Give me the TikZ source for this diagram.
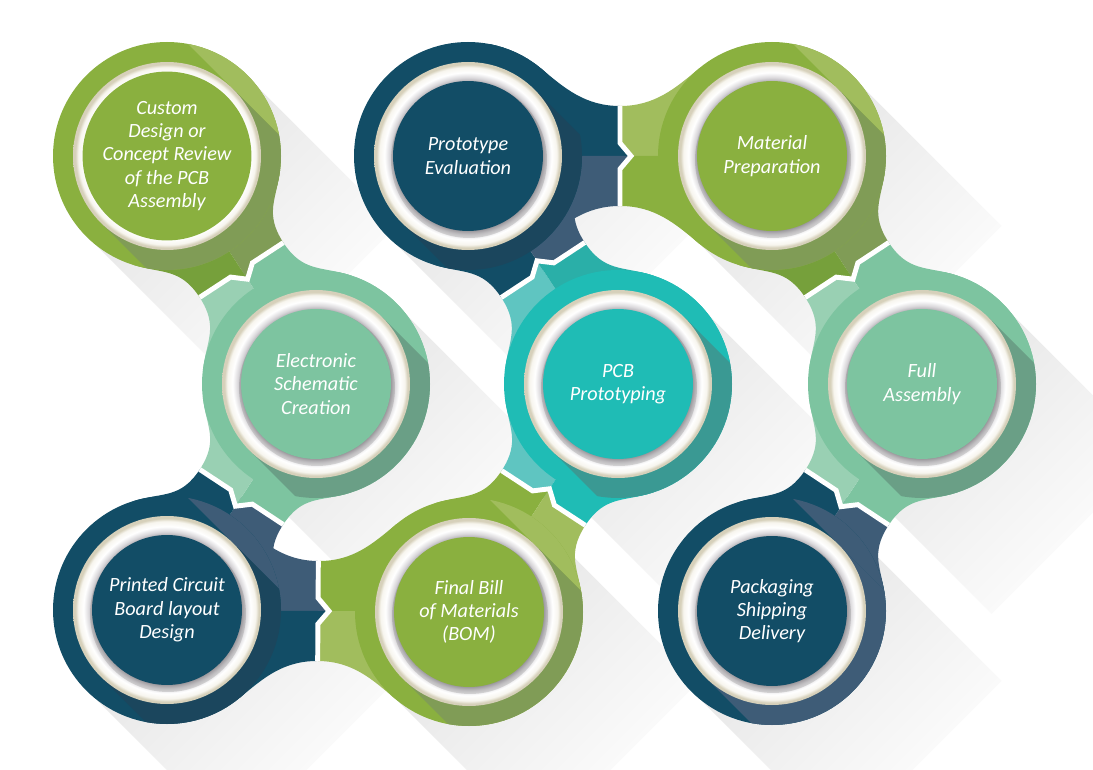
\documentclass[tikz,border=0pt]{standalone}
\usepackage{fontspec}
\setmainfont{Carlito}
\usetikzlibrary{calc, fadings}

\definecolor{GreenBase}{HTML}{8AB03F}
\definecolor{GreenLight}{HTML}{A1BD5D}
\definecolor{GreenDark}{HTML}{76A03B}
\definecolor{GreenOlive}{HTML}{809C56}
\definecolor{MintBase}{HTML}{7DC4A0}
\definecolor{MintLight}{HTML}{99D0B3}
\definecolor{MintShadow}{HTML}{6A9F86}
\definecolor{BlueBase}{HTML}{124D66}
\definecolor{BlueSlate}{HTML}{3E5C77}
\definecolor{BlueShadow}{HTML}{1B465D}
\definecolor{TealBase}{HTML}{1FBCB5}
\definecolor{TealLight}{HTML}{5FC5C1}
\definecolor{TealDark}{HTML}{2AAFA8}
\definecolor{TealShadow}{HTML}{3A9993}
\definecolor{RingCream}{HTML}{D6D0BA}
\definecolor{RingWhite}{HTML}{F7F5EE}
\definecolor{RingMid}{HTML}{D9D7DA}
\definecolor{RingGray}{HTML}{A6A2A8}

\pgfdeclareradialshading{ringshade}{\pgfpointorigin}{%
  color(0bp)=(RingGray); color(19.6bp)=(RingGray); color(20.8bp)=(RingMid);
  color(22.2bp)=(white); color(23.6bp)=(RingWhite); color(24.4bp)=(RingCream);
  color(25bp)=(RingCream); color(50bp)=(RingCream)}

\newcommand{\neckphi}{50}

% neck between two stages, split in four tones, arrow notch towards #2
\newcommand{\necklink}[6]{%
  \coordinate (#1-#2-m) at ($(#1)!0.5!(#2)$);
  \coordinate (#1-#2-qp) at ($(#1-#2-m)!1cm!90:(#2)$);
  \coordinate (#1-#2-qm) at ($(#1-#2-m)!1cm!-90:(#2)$);
  \coordinate (#1-#2-ap) at ($(#1)!2.28cm!\neckphi:(#2)$);
  \coordinate (#1-#2-am) at ($(#1)!2.28cm!-\neckphi:(#2)$);
  \coordinate (#1-#2-bp) at ($(#2)!2.28cm!-\neckphi:(#1)$);
  \coordinate (#1-#2-bm) at ($(#2)!2.28cm!\neckphi:(#1)$);
  \coordinate (#1-#2-aback) at ($(#1-#2-m)!0.7cm!(#1)$);
  \coordinate (#1-#2-bback) at ($(#1-#2-m)!0.7cm!(#2)$);
  \coordinate (#1-#2-tip) at ($(#1-#2-m)!0.22cm!(#2)$);
  \coordinate (#1-#2-vp) at ($(#1-#2-m)!0.26cm!90:(#2)$);
  \coordinate (#1-#2-vm) at ($(#1-#2-m)!0.26cm!-90:(#2)$);
  \fill[#5] (#2) -- (#1-#2-bp)
    .. controls ($(#1-#2-bp)!0.6cm!-90:(#2)$) and ($(#1-#2-bback)!1cm!90:(#2)$) .. (#1-#2-qp)
    -- (#1-#2-m) -- cycle;
  \fill[#6] (#2) -- (#1-#2-bm)
    .. controls ($(#1-#2-bm)!0.6cm!90:(#2)$) and ($(#1-#2-bback)!1cm!-90:(#2)$) .. (#1-#2-qm)
    -- (#1-#2-m) -- cycle;
  \fill[#3] (#1) -- (#1-#2-ap)
    .. controls ($(#1-#2-ap)!0.6cm!90:(#1)$) and ($(#1-#2-aback)!1cm!-90:(#1)$) .. (#1-#2-qp)
    -- (#1-#2-vp) -- (#1-#2-tip) -- cycle;
  \fill[#4] (#1) -- (#1-#2-am)
    .. controls ($(#1-#2-am)!0.6cm!-90:(#1)$) and ($(#1-#2-aback)!1cm!90:(#1)$) .. (#1-#2-qm)
    -- (#1-#2-vm) -- (#1-#2-tip) -- cycle;
}

\newcommand{\neckjoin}[2]{%
  \draw[joinline] (#1-#2-qp) -- (#1-#2-vp) -- (#1-#2-tip) -- (#1-#2-vm) -- (#1-#2-qm);
}

% disc of a stage: base colour, long shadow band, light side
\newcommand{\blobdisk}[4]{%
  \fill[#2] (#1) circle[radius=114];
  \begin{scope}
    \clip (#1) circle[radius=114];
    \fill[#4, shift={(#1)}] (-75,-208) -- (208,75) -- (349,-66) -- (66,-349) -- cycle;
    \fill[#3, shift={(#1)}] (66.5,-66.5) -- (-66.5,66.5) -- (75,208) -- (208,75) -- cycle;
  \end{scope}
}

\newcommand{\stagering}[1]{%
  \shade[shading=ringshade] (#1) circle[radius=94];
  \fill[black, opacity=0.12] ($(#1)+(1,4)$) circle[radius=78];
}

\begin{document}
\begin{tikzpicture}[x=0.02cm, y=-0.02cm,
  stagedisk/.style={circle, minimum size=3cm, inner sep=0pt, text=white, align=center,
    font=\fontsize{11.5}{13.3}\selectfont\itshape},
  joinline/.style={white, line width=2.8pt, line join=miter},
  bgshade/.style={fill=black!11, path fading=east, fading angle=-45}]

  \useasboundingbox[fill=white] (0,0) rectangle (1093,770);

  % stage centres
  \coordinate (design) at (167,156);
  \coordinate (schematic) at (316,384);
  \coordinate (layout) at (167,610);
  \coordinate (evaluation) at (468,156);
  \coordinate (prototyping) at (618,384);
  \coordinate (bom) at (469,612);
  \coordinate (material) at (772,156);
  \coordinate (assembly) at (922,384);
  \coordinate (shipping) at (772,611);

  % soft long shadows on the paper
  \foreach \c in {design,schematic,layout,evaluation,prototyping,bom,material,assembly,shipping}
    \fill[bgshade, shift={(\c)}] (80,-80) -- (-80,80) -- (70,230) -- (230,70) -- cycle;

  % necks
  \necklink{design}{schematic}{GreenOlive}{GreenDark}{MintBase}{MintLight}
  \necklink{schematic}{layout}{MintBase}{MintLight}{BlueSlate}{BlueBase}
  \necklink{layout}{bom}{BlueSlate}{BlueBase}{GreenBase}{GreenLight}
  \necklink{bom}{prototyping}{GreenBase}{GreenLight}{TealLight}{TealBase}
  \necklink{prototyping}{evaluation}{TealLight}{TealDark}{BlueBase}{BlueSlate}
  \necklink{evaluation}{material}{BlueBase}{BlueSlate}{GreenLight}{GreenBase}
  \necklink{material}{assembly}{GreenOlive}{GreenDark}{MintBase}{MintLight}
  \necklink{assembly}{shipping}{MintBase}{MintLight}{BlueSlate}{BlueBase}

  % discs
  \blobdisk{design}{GreenBase}{GreenOlive}{GreenLight}
  \blobdisk{schematic}{MintBase}{MintShadow}{MintBase}
  \blobdisk{layout}{BlueBase}{BlueShadow}{BlueSlate}
  \blobdisk{evaluation}{BlueBase}{BlueShadow}{BlueBase}
  \blobdisk{prototyping}{TealBase}{TealShadow}{TealBase}
  \blobdisk{bom}{GreenBase}{GreenOlive}{GreenLight}
  \blobdisk{material}{GreenBase}{GreenOlive}{GreenLight}
  \blobdisk{assembly}{MintBase}{MintShadow}{MintBase}
  \blobdisk{shipping}{BlueBase}{BlueSlate}{BlueSlate}

  % white notched joins
  \neckjoin{design}{schematic}
  \neckjoin{schematic}{layout}
  \neckjoin{layout}{bom}
  \neckjoin{bom}{prototyping}
  \neckjoin{prototyping}{evaluation}
  \neckjoin{evaluation}{material}
  \neckjoin{material}{assembly}
  \neckjoin{assembly}{shipping}

  % rings
  \foreach \c in {design,schematic,layout,evaluation,prototyping,bom,material,assembly,shipping}
    \stagering{\c};

  % labelled discs
  \node[stagedisk, fill=GreenBase] (design-text) at (design)
    {Custom\\Design or\\Concept Review\\of the PCB\\Assembly};
  \node[stagedisk, fill=MintBase] (schematic-text) at (schematic)
    {Electronic\\Schematic\\Creation};
  \node[stagedisk, fill=BlueBase] (layout-text) at (layout)
    {Printed Circuit\\Board layout\\Design};
  \node[stagedisk, fill=BlueBase] (evaluation-text) at (evaluation)
    {Prototype\\Evaluation};
  \node[stagedisk, fill=TealBase] (prototyping-text) at (prototyping)
    {PCB\\Prototyping};
  \node[stagedisk, fill=GreenBase] (bom-text) at (bom)
    {Final Bill\\of Materials\\(BOM)};
  \node[stagedisk, fill=GreenBase] (material-text) at (material)
    {Material\\Preparation};
  \node[stagedisk, fill=MintBase] (assembly-text) at (assembly)
    {Full\\Assembly};
  \node[stagedisk, fill=BlueBase] (shipping-text) at (shipping)
    {Packaging\\Shipping\\Delivery};
\end{tikzpicture}
\end{document}
